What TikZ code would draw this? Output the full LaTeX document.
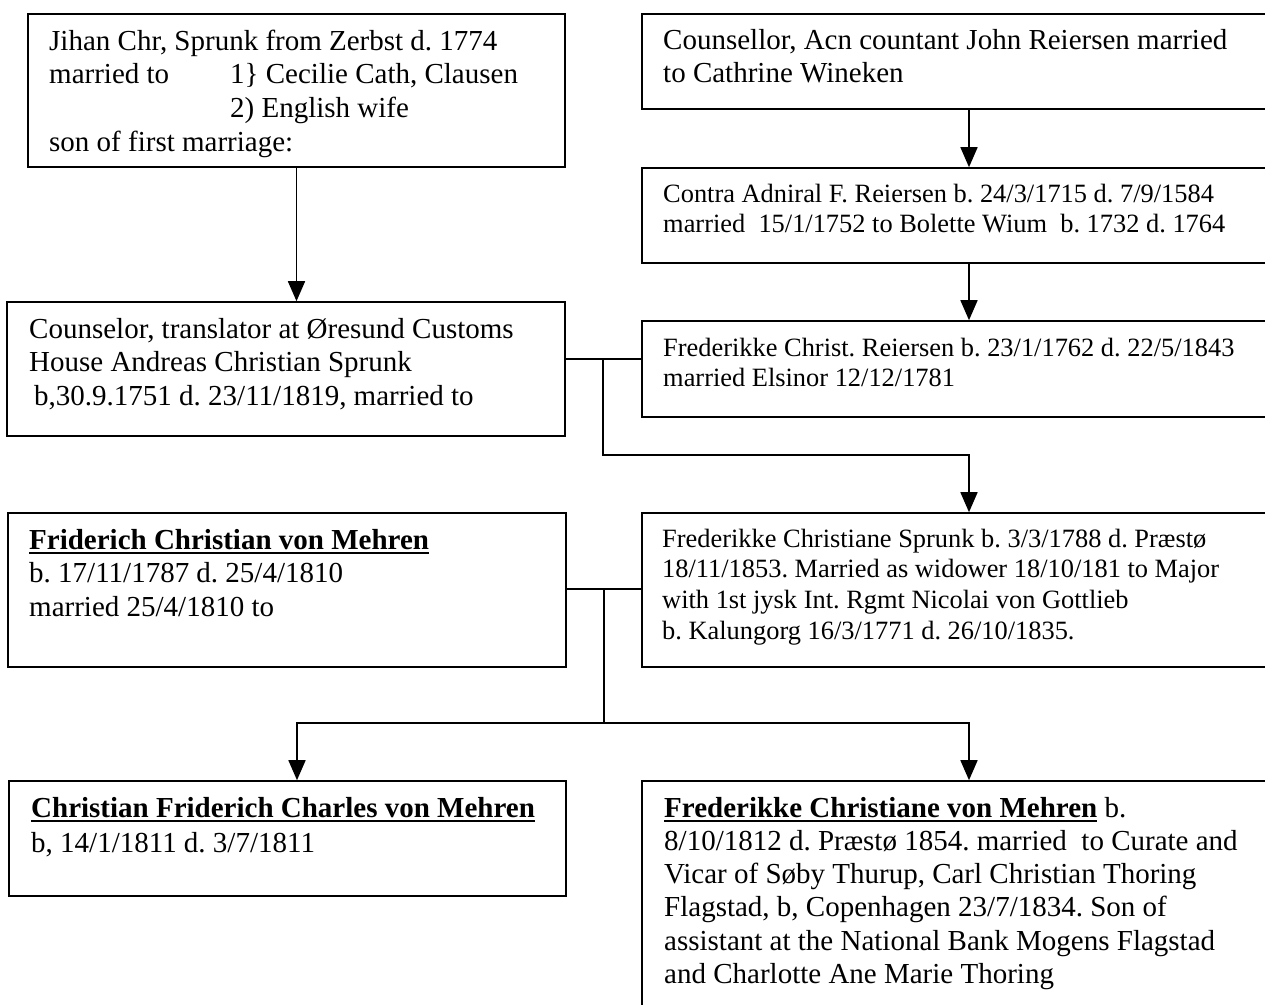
\documentclass[tikz,border=0pt]{standalone}
\usepackage{fontspec}
\setmainfont{Liberation Serif}
\usetikzlibrary{arrows.meta}
\frenchspacing
\newcommand\myul[1]{\leavevmode\setbox0\hbox{#1}\rlap{\rule[-5pt]{\wd0}{2.5pt}}\box0\relax}
\newcommand\bigtxt{\fontsize{29pt}{33.8pt}\selectfont}
\newcommand\smtxt{\fontsize{26.4pt}{30.8pt}\selectfont}
\newcommand\famtext[2]{\parbox[t]{#1}{\raggedright\frenchspacing\leavevmode #2}}
\tikzset{
  famBox/.style={draw=black, line width=1.6pt, rectangle, inner sep=0pt, fill=white},
  famTxt/.style={anchor=base west, inner sep=0pt},
  conn/.style={line width=1.6pt},
  connArr/.style={line width=1.6pt, -{Triangle[length=20pt,width=17pt]}},
}
\begin{document}
\begin{tikzpicture}[x=1pt, y=-1pt]
\useasboundingbox (0,0) rectangle (1265,1004);
\clip (0,0) rectangle (1265,1004);
\fill[white] (0,0) rectangle (1265,1004);

% boxes
\node[famBox, minimum width=537pt, minimum height=153pt] (A) at (296.5,90.5) {};
\node[famBox, minimum width=654pt, minimum height=95pt] (B) at (969,61.5) {};
\node[famBox, minimum width=654pt, minimum height=95pt] (D) at (969,215.5) {};
\node[famBox, minimum width=558pt, minimum height=134pt] (C) at (286,369) {};
\node[famBox, minimum width=654pt, minimum height=96pt] (E) at (969,369) {};
\node[famBox, minimum width=558pt, minimum height=154pt] (F) at (287,590) {};
\node[famBox, minimum width=654pt, minimum height=154pt] (G) at (969,590) {};
\node[famBox, minimum width=557pt, minimum height=115pt] (H) at (287.5,838.5) {};
\node[famBox, minimum width=654pt, minimum height=231pt] (I) at (969,896.5) {};

% texts
\node[famTxt] (tA) at (49,50) {\famtext{520pt}{\bigtxt
Jihan Chr, Sprunk from Zerbst d. 1774\\
\makebox[181pt][l]{married to}1\} Cecilie Cath, Clausen\\
\hspace*{181pt}2) English wife\\
son of first marriage:}};

\node[famTxt] (tB) at (663,49) {\famtext{600pt}{\bigtxt
Counsellor, Acn countant John Reiersen married\\
to Cathrine Wineken}};

\node[famTxt] (tD) at (663,202) {\famtext{600pt}{\smtxt
Contra Adniral F. Reiersen b. 24/3/1715 d. 7/9/1584\\
married\ \ 15/1/1752 to Bolette Wium\ \ b. 1732 d. 1764}};

\node[famTxt] (tC) at (29,338) {\famtext{530pt}{\bigtxt
Counselor, translator at Øresund Customs\\
House Andreas Christian Sprunk\\
\hspace*{5pt}b,30.9.1751 d. 23/11/1819, married to}};

\node[famTxt] (tE) at (663,356) {\famtext{600pt}{\smtxt
Frederikke Christ. Reiersen b. 23/1/1762 d. 22/5/1843\\
married Elsinor 12/12/1781}};

\node[famTxt] (tF) at (29,549) {\famtext{530pt}{\bigtxt
\myul{\textbf{Friderich Christian von Mehren}}\\
b. 17/11/1787 d. 25/4/1810\\
married 25/4/1810 to}};

\node[famTxt] (tG) at (662,547) {\famtext{600pt}{\smtxt
Frederikke Christiane Sprunk b. 3/3/1788 d. Præstø\\
18/11/1853. Married as widower 18/10/181 to Major\\
with 1st jysk Int. Rgmt Nicolai von Gottlieb\\
b. Kalungorg 16/3/1771 d. 26/10/1835.}};

\node[famTxt] (tH) at (31,817) {\famtext{530pt}{\fontsize{29pt}{35pt}\selectfont
\myul{\textbf{Christian Friderich Charles von Mehren}}\\
b, 14/1/1811 d. 3/7/1811}};

\node[famTxt] (tI) at (664,817) {\famtext{600pt}{\fontsize{29pt}{33.3pt}\selectfont
\myul{\textbf{Frederikke Christiane von Mehren}} b.\\
8/10/1812 d. Præstø 1854. married\ \ to Curate and\\
Vicar of Søby Thurup, Carl Christian Thoring\\
Flagstad, b, Copenhagen 23/7/1834. Son of\\
assistant at the National Bank Mogens Flagstad\\
and Charlotte Ane Marie Thoring}};

% connectors
\draw[connArr] (A.south) -- (A.south |- C.north);
\draw[connArr] (B.south) -- (D.north);
\draw[connArr] (D.south) -- (E.north);

\draw[conn] ([yshift=10pt]C.east) -- ([yshift=10pt]E.west);
\coordinate (m1) at (603,359);
\coordinate (j1) at (603,455);
\draw[connArr] (m1) -- (j1) -| (G.north);

\draw[conn] ([yshift=1pt]F.east) -- ([yshift=1pt]G.west);
\coordinate (m2) at (604,589);
\coordinate (j2) at (604,723);
\coordinate (hl) at (297,723);
\coordinate (hr) at (969,723);
\draw[conn] (m2) -- (j2);
\draw[connArr] (j2) -- (hl) -- (hl |- H.north);
\draw[connArr] (j2) -- (hr) -- (I.north);
\end{tikzpicture}
\end{document}
